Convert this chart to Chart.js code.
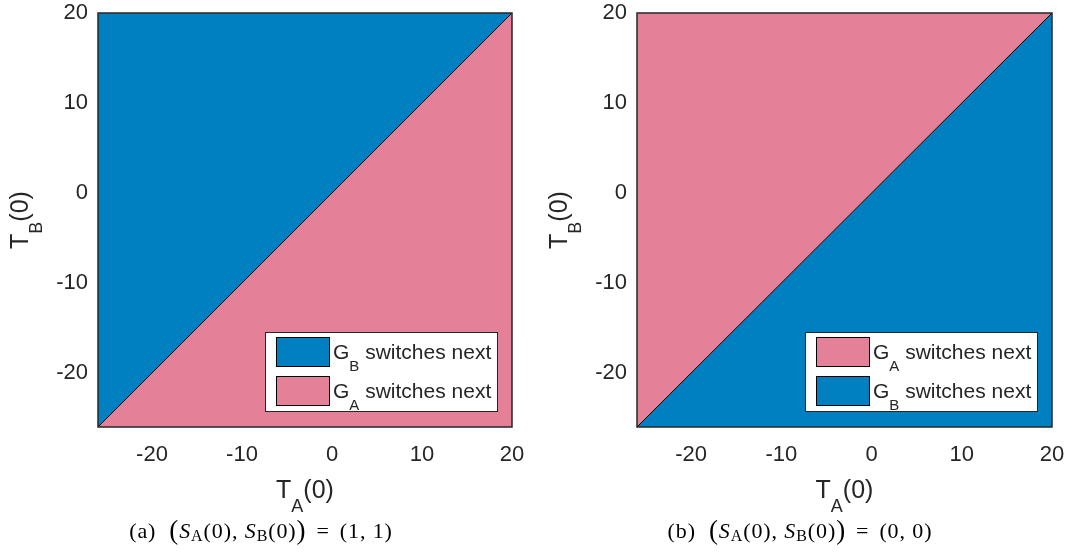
<!DOCTYPE html>
<html>
<head>
<meta charset="utf-8">
<script src="https://cdn.jsdelivr.net/npm/chart.js@4.4.1/dist/chart.umd.min.js"></script>
<style>
  body { margin: 0; background: #fff; width: 1082px; height: 558px; position: relative; overflow: hidden; }
  canvas { position: absolute; top: 0; }
  #left { left: 0; }
  #right { left: 541px; }
  .caption { position: absolute; top: 518px; width: 400px; text-align: center; white-space: nowrap;
             font-family: "Liberation Serif", "DejaVu Serif", serif; font-size: 22px; letter-spacing: 0.9px; color: #000; }
  .caption sub { font-size: 16px; vertical-align: -3px; line-height: 0; }
  .caption .big { font-size: 27px; font-weight: 300; vertical-align: -1px; line-height: 0; }
  .caption .gap { margin: 0 10px; }
  .caption .tag { margin-right: 13px; }
</style>
</head>
<body>
<canvas id="left" width="541" height="558"></canvas>
<canvas id="right" width="541" height="558"></canvas>
<div class="caption" style="left:61px"><span class="tag">(a)</span><span class="big">(</span><i>S</i><sub>A</sub>(0),&nbsp;<i>S</i><sub>B</sub>(0)<span class="big">)</span><span class="gap">=</span>(1,&nbsp;1)</div>
<div class="caption" style="left:600px"><span class="tag">(b)</span><span class="big">(</span><i>S</i><sub>A</sub>(0),&nbsp;<i>S</i><sub>B</sub>(0)<span class="big">)</span><span class="gap">=</span>(0,&nbsp;0)</div>
<script>
// axis range and ticks (same on both axes)
const axisMin = -26;
const axisMax = 20;
const tickValues = [-20, -10, 0, 10, 20];

// boundary T_B(0) = T_A(0) that splits the two regions
const boundaryTA = [-26, 20];
const boundaryTB = [-26, 20];

const blue = 'rgb(0, 128, 192)';
const pink = 'rgb(229, 128, 153)';
const axisColor = '#262626';
const sansFont = '"Liberation Sans", Arial, Helvetica, sans-serif';

const boundary = boundaryTA.map((x, i) => ({ x: x, y: boundaryTB[i] }));

// text with one subscript, e.g. T_A(0)
function drawSubText(ctx, main, sub, rest, x, y, size, centered) {
    const subSize = Math.round(size * 0.7);
    const drop = size * 0.56;
    const mainFont = size + 'px ' + sansFont;
    const subFont = subSize + 'px ' + sansFont;
    ctx.font = mainFont;
    const w1 = ctx.measureText(main).width;
    const w3 = ctx.measureText(rest).width;
    ctx.font = subFont;
    const w2 = ctx.measureText(sub).width;
    const x0 = centered ? x - (w1 + w2 + w3) / 2 : x;
    ctx.textAlign = 'left';
    ctx.textBaseline = 'alphabetic';
    ctx.font = mainFont;
    ctx.fillText(main, x0, y);
    ctx.font = subFont;
    ctx.fillText(sub, x0 + w1, y + drop);
    ctx.font = mainFont;
    ctx.fillText(rest, x0 + w1 + w2, y);
}

// frame, legend box and axis titles
const decorations = {
    id: 'decorations',
    afterDatasetsDraw(chart, args, opts) {
        const ctx = chart.ctx;
        const a = chart.chartArea;
        ctx.save();
        ctx.strokeStyle = axisColor;
        ctx.lineWidth = 1.5;
        ctx.strokeRect(a.left, a.top, a.right - a.left, a.bottom - a.top);

        // legend
        const bw = 232, bh = 79;
        const bx = a.right - 15 - bw, by = a.bottom - 16 - bh;
        ctx.fillStyle = '#fff';
        ctx.fillRect(bx, by, bw, bh);
        ctx.lineWidth = 1;
        ctx.strokeStyle = axisColor;
        ctx.strokeRect(bx + 0.5, by + 0.5, bw, bh);
        opts.items.forEach((item, i) => {
            const px = bx + 11, py = by + 5 + i * 39;
            ctx.fillStyle = item.color;
            ctx.fillRect(px, py, 53, 29);
            ctx.strokeStyle = '#000';
            ctx.strokeRect(px + 0.5, py + 0.5, 53, 29);
            ctx.fillStyle = axisColor;
            drawSubText(ctx, 'G', item.sub, ' switches next', px + 57, py + 22, 21, false);
        });

        // axis titles
        ctx.fillStyle = axisColor;
        drawSubText(ctx, 'T', 'A', '(0)', (a.left + a.right) / 2, a.bottom + 71, 25, true);
        ctx.translate(a.left - 70, (a.top + a.bottom) / 2);
        ctx.rotate(-Math.PI / 2);
        drawSubText(ctx, 'T', 'B', '(0)', 0, 0, 25, true);
        ctx.restore();
    }
};

function axis(fitSize, padding) {
    return {
        type: 'linear',
        min: axisMin,
        max: axisMax,
        grid: { display: false },
        border: { display: false },
        afterBuildTicks: s => { s.ticks = tickValues.map(v => ({ value: v })); },
        afterFit: s => {
            // fixed axis band; end labels may overhang into the page margin
            if (s.isHorizontal()) {
                s.height = fitSize;
                s.paddingLeft = 0;
                s.paddingRight = 0;
            } else {
                s.width = fitSize;
                s.paddingTop = 0;
                s.paddingBottom = 0;
            }
        },
        ticks: { padding: padding, color: axisColor, font: { family: sansFont, size: 22 } }
    };
}

function makeChart(id, upperColor, lowerColor, legendItems, yWidth, padRight) {
    return new Chart(document.getElementById(id), {
        type: 'scatter',
        data: {
            datasets: [
                { data: boundary, showLine: true, borderColor: '#000', borderWidth: 1, pointRadius: 0, fill: false, order: 0 },
                { data: boundary, showLine: true, borderWidth: 0, pointRadius: 0, fill: 'end', backgroundColor: upperColor, order: 1 },
                { data: boundary, showLine: true, borderWidth: 0, pointRadius: 0, fill: 'start', backgroundColor: lowerColor, order: 2 }
            ]
        },
        options: {
            responsive: false,
            animation: false,
            layout: { padding: { left: 0, right: padRight, top: 13, bottom: 0 } },
            plugins: {
                legend: { display: false },
                tooltip: { enabled: false },
                decorations: { items: legendItems }
            },
            scales: {
                x: axis(131, 7),
                y: axis(yWidth, 2)
            }
        },
        plugins: [decorations]
    });
}

makeChart('left', blue, pink,
    [{ color: blue, sub: 'B' }, { color: pink, sub: 'A' }], 98, 29);
makeChart('right', pink, blue,
    [{ color: pink, sub: 'A' }, { color: blue, sub: 'B' }], 96, 30);
</script>
</body>
</html>
